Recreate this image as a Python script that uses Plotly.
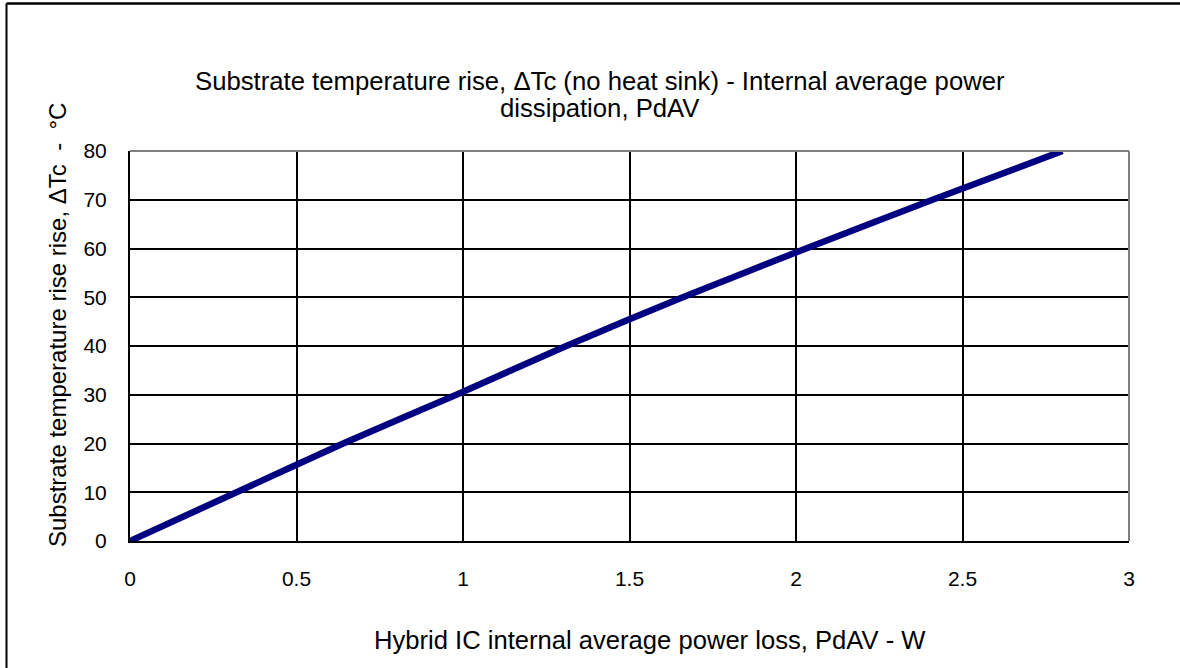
import plotly.graph_objects as go

power_w = [0, 0.32, 0.64, 0.98, 1.31, 1.66, 2.03, 2.41, 2.8]
delta_tc = [0, 10, 20, 30, 40, 50, 60, 70, 80]

x_ticks = [0, 0.5, 1, 1.5, 2, 2.5, 3]
x_ticktext = ["0", "0.5", "1", "1.5", "2", "2.5", "3"]
y_ticks = [0, 10, 20, 30, 40, 50, 60, 70, 80]

title_line1 = "Substrate temperature rise, ΔTc (no heat sink) - Internal average power"
title_line2 = "dissipation, PdAV"
x_title = "Hybrid IC internal average power loss, PdAV - W"
y_title = "Substrate temperature rise rise, ΔTc  -  °C"

W, H = 1180, 668
L, R, T, B = 130, 51, 151, 127
pw, ph = W - L - R, H - T - B

def px(xp):
    return (xp - L) / pw

def py(yp):
    return (H - B - yp) / ph

font = "Liberation Sans, Arial, sans-serif"

fig = go.Figure()
fig.add_trace(go.Scatter(
    x=power_w, y=delta_tc, mode="lines",
    line=dict(color="#000080", width=6.5, shape="spline", smoothing=0.6),
    showlegend=False, hoverinfo="skip"))

fig.update_layout(
    width=W, height=H,
    margin=dict(l=L, r=R, t=T, b=B),
    paper_bgcolor="white", plot_bgcolor="white",
    font=dict(family=font, color="black", size=22),
    showlegend=False,
)
fig.update_xaxes(
    range=[0, 3], tickvals=x_ticks, ticktext=x_ticktext,
    showgrid=True, gridcolor="black", gridwidth=1.5,
    showline=True, linecolor="black", linewidth=2,
    zeroline=False, ticks="", ticklabelstandoff=18,
    tickfont=dict(size=21, family=font),
)
fig.update_yaxes(
    range=[0, 80], tickvals=y_ticks,
    showgrid=True, gridcolor="black", gridwidth=1.5,
    showline=True, linecolor="black", linewidth=2,
    zeroline=False, ticks="", ticklabelstandoff=17,
    tickfont=dict(size=21, family=font),
)

shapes = [
    dict(type="line", xref="paper", yref="paper", x0=0, x1=1, y0=1, y1=1,
         line=dict(color="#808080", width=2), layer="above"),
    dict(type="line", xref="paper", yref="paper", x0=1, x1=1, y0=0, y1=1,
         line=dict(color="#808080", width=2), layer="above"),
    dict(type="line", xref="paper", yref="paper", x0=px(6.5), x1=px(1185), y0=py(3.5), y1=py(3.5),
         line=dict(color="black", width=2.5)),
    dict(type="line", xref="paper", yref="paper", x0=px(6.5), x1=px(6.5), y0=py(3.5), y1=py(675),
         line=dict(color="black", width=2)),
]
fig.update_layout(shapes=shapes)

annotations = [
    dict(text=title_line1, xref="paper", yref="paper", x=px(600), y=py(81),
         showarrow=False, xanchor="center", yanchor="middle",
         font=dict(size=25.7, family=font)),
    dict(text=title_line2, xref="paper", yref="paper", x=px(600), y=py(108),
         showarrow=False, xanchor="center", yanchor="middle",
         font=dict(size=25.7, family=font)),
    dict(text=x_title, xref="paper", yref="paper", x=px(650), y=py(640),
         showarrow=False, xanchor="center", yanchor="middle",
         font=dict(size=25.6, family=font)),
    dict(text=y_title, xref="paper", yref="paper", x=px(57), y=py(325),
         showarrow=False, xanchor="center", yanchor="middle", textangle=-90,
         font=dict(size=24, family=font)),
]
fig.update_layout(annotations=annotations)

fig.write_html("out.html", config={"displayModeBar": False},
               post_script="document.body.style.margin='0';")
